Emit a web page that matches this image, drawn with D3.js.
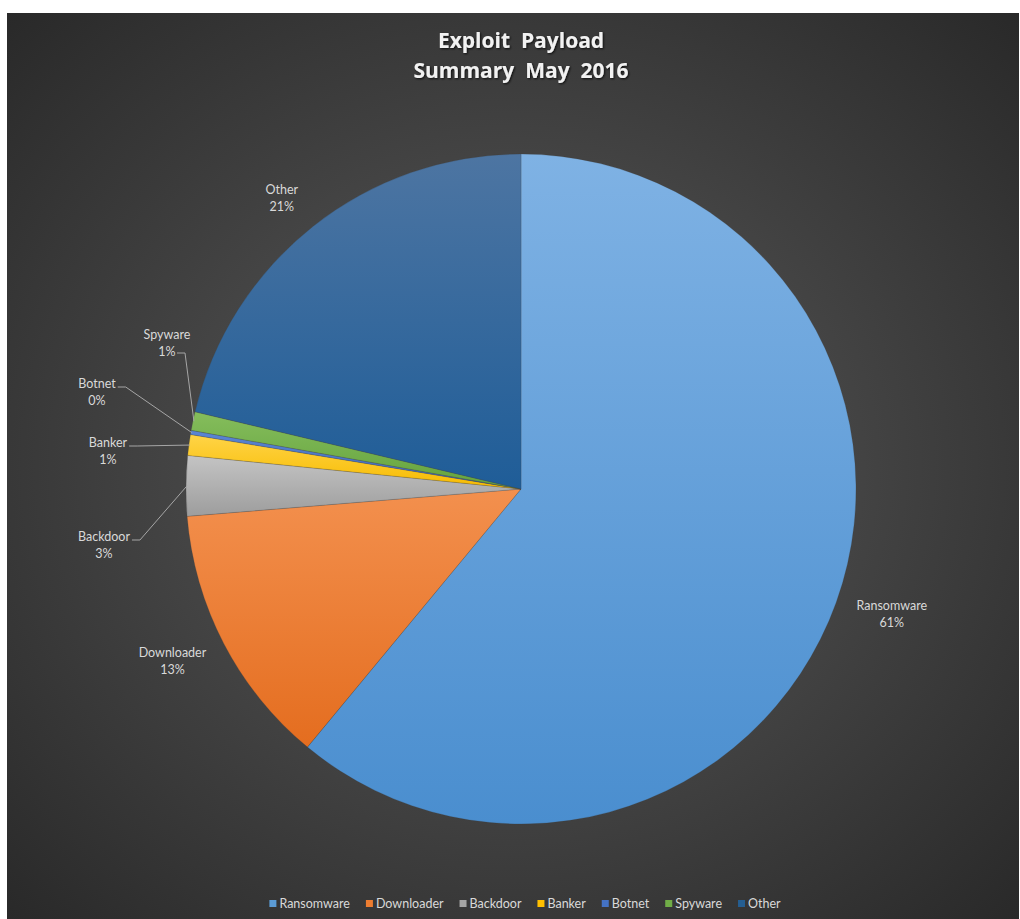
<!DOCTYPE html>
<html><head><meta charset="utf-8">
<script src="https://cdn.jsdelivr.net/npm/d3@7"></script>
<style>body{margin:0;background:#fff;}svg{display:block;}</style>
</head><body>
<svg id="chart" width="1020" height="919"></svg>
<script>
const categories = ["Ransomware","Downloader","Backdoor","Banker","Botnet","Spyware","Other"];
const values = [61.0, 12.7, 2.9, 1.0, 0.2, 0.9, 21.3];
const pctLabels = ["61%","13%","3%","1%","0%","1%","21%"];
const titleLines = ["Exploit  Payload","Summary  May  2016"];

const baseColors = ["#5B9BD5","#ED7D31","#A5A5A5","#FFC000","#4472C4","#70AD47","#255E91"];
const topColors  = ["#7fb2e4","#f3904e","#c4c4c4","#ffd447","#5b86d4","#85bd5c","#4d75a2"];
const botColors  = ["#4a8ecf","#e46d1f","#9d9d9d","#f7bb00","#3d68b8","#64a33d","#1f5d98"];

const svg = d3.select("#chart");
const defs = svg.append("defs");
const bg = defs.append("radialGradient").attr("id","bg").attr("cx","50%").attr("cy","50%").attr("r","72%");
bg.append("stop").attr("offset","0%").attr("stop-color","#5c5c5c");
bg.append("stop").attr("offset","100%").attr("stop-color","#282828");
categories.forEach((c,i)=>{
  const g = defs.append("linearGradient").attr("id","g"+i).attr("x1",0).attr("y1",0).attr("x2",0).attr("y2",1);
  g.append("stop").attr("offset","0%").attr("stop-color",topColors[i]);
  g.append("stop").attr("offset","100%").attr("stop-color",botColors[i]);
});
const sh = defs.append("filter").attr("id","tshadow").attr("x","-10%").attr("y","-30%").attr("width","120%").attr("height","160%");
sh.append("feDropShadow").attr("dx",1).attr("dy",1).attr("stdDeviation",1.2).attr("flood-color","#000").attr("flood-opacity",0.8);

svg.append("rect").attr("x",7).attr("y",13).attr("width",1012).attr("height",906).attr("fill","url(#bg)");

const cx = 521, cy = 489, R = 335;
const pie = d3.pie().sort(null).value(d=>d.v);
const data = categories.map((c,i)=>({name:c,v:values[i],pct:pctLabels[i],i}));
const arcs = pie(data);
const arc = d3.arc().innerRadius(0).outerRadius(R);
const g = svg.append("g").attr("transform",`translate(${cx},${cy})`);
g.selectAll("path.slice").data(arcs).enter().append("path")
  .attr("class","slice").attr("d",arc)
  .attr("fill",d=>`url(#g${d.data.i})`)
  .attr("stroke","rgba(60,60,60,0.35)").attr("stroke-width",0.6);

// labels
const font = "Lato, 'Open Sans', sans-serif";
const labelColor = "#d9d9d9";
const smallPos = { // label block center x, first baseline y (layout, relative to svg)
  "Backdoor":[104,541], "Banker":[108,447], "Botnet":[97,388], "Spyware":[167,339]
};
const bigShift = {"Ransomware":[2,-8], "Downloader":[-1,-9], "Other":[4,16]};
const lg = svg.append("g");
arcs.forEach(d=>{
  const mid = (d.startAngle+d.endAngle)/2;
  let lx, ly;
  if (smallPos[d.data.name]) {
    [lx, ly] = smallPos[d.data.name];
  } else {
    const rr = R*1.17;
    const s = bigShift[d.data.name] || [0,0];
    lx = cx + Math.sin(mid)*rr + s[0];
    ly = cy - Math.cos(mid)*rr - 4 + s[1];
  }
  const t1 = lg.append("text").attr("x",lx).attr("y",ly).attr("text-anchor","middle")
    .attr("font-family",font).attr("font-size",12.5).attr("fill",labelColor).text(d.data.name);
  lg.append("text").attr("x",lx).attr("y",ly+17).attr("text-anchor","middle")
    .attr("font-family",font).attr("font-size",12.5).attr("fill",labelColor).text(d.data.pct);
  if (smallPos[d.data.name]) {
    const w = t1.node().getComputedTextLength();
    const isSpy = d.data.name==="Spyware";
    const sx = isSpy ? lx + 10 : lx + w/2 + 2;
    const sy = isSpy ? ly + 14 : ly - 1;
    const px = cx + Math.sin(mid)*(R-1), py = cy - Math.cos(mid)*(R-1);
    const pts = [[sx,sy],[sx+8,sy],[px,py]];
    lg.append("path").attr("d",d3.line()(pts)).attr("fill","none")
      .attr("stroke","#a6a6a6").attr("stroke-width",1);
  }
});

// title
const tt = svg.append("text").attr("text-anchor","middle").attr("font-family","'Open Sans', sans-serif")
  .attr("font-weight","bold").attr("font-size",21).attr("fill","#f2f2f2").attr("filter","url(#tshadow)")
  .style("white-space","pre");
titleLines.forEach((l,i)=>tt.append("tspan").attr("x",cx).attr("y",48+i*30).text(l));

// legend
const leg = svg.append("g");
let x = 0;
categories.forEach((c,i)=>{
  const it = leg.append("g");
  it.append("rect").attr("x",0).attr("y",-8).attr("width",7).attr("height",7).attr("fill",baseColors[i]);
  const t = it.append("text").attr("x",10).attr("y",0).attr("font-family",font).attr("font-size",12.5)
    .attr("fill",labelColor).text(c);
  const w = 10 + t.node().getComputedTextLength();
  it.attr("transform",`translate(${x},0)`);
  x += w + 16;
});
const totalW = x - 16;
leg.attr("transform",`translate(${cx + 4 - totalW/2},908)`);
</script>
</body></html>
